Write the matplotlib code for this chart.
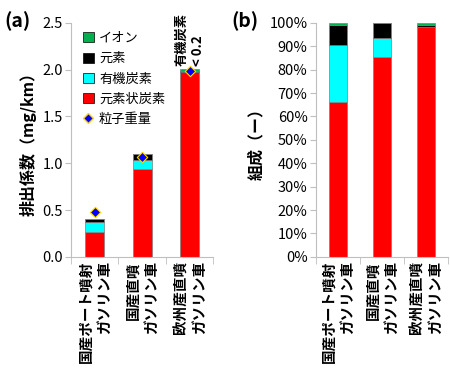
import numpy as np
import matplotlib
matplotlib.use('Agg')
from matplotlib import pyplot as plt
from matplotlib.lines import Line2D
from matplotlib.patches import Patch
from matplotlib.ticker import FuncFormatter, FixedLocator

plt.rcParams['font.family'] = ['Noto Sans CJK JP', 'DejaVu Sans']

cars = ['国産ポート噴射\nガソリン車', '国産直噴\nガソリン車', '欧州産直噴\nガソリン車']
ec = np.array([0.27, 0.94, 1.97])       # 元素状炭素
oc = np.array([0.10, 0.09, 0.0])        # 有機炭素
elem = np.array([0.035, 0.07, 0.02])    # 元素
ion = np.array([0.003, 0.002, 0.02])    # イオン
pm = np.array([0.48, 1.07, 1.98])       # 粒子重量

names = ['元素状炭素', '有機炭素', '元素', 'イオン']
colors = ['#FF0000', '#00FFFF', '#000000', '#00B050']

fig = plt.figure(figsize=(4.5, 3.8), dpi=100)
ax1 = fig.add_axes([0.158, 0.324, 0.316, 0.616])
ax2 = fig.add_axes([0.702, 0.324, 0.293, 0.616])

x = np.arange(len(cars))
w = 0.4

def draw_stack(ax, parts):
    bottom = np.zeros(len(cars))
    for p, c in zip(parts, colors):
        ax.bar(x, p, w, bottom=bottom, color=c, edgecolor='#7f7f7f', linewidth=0.5)
        bottom = bottom + p

def style(ax):
    for s in ['top', 'right']:
        ax.spines[s].set_visible(False)
    for s in ['left', 'bottom']:
        ax.spines[s].set_color('#bfbfbf')
    ax.set_xlim(-0.5, 2.5)
    ax.set_xticks(x)
    ax.set_xticklabels(cars, rotation=90, fontsize=10.5, fontweight='bold',
                       va='top', ha='center', multialignment='right')
    ax.xaxis.set_minor_locator(FixedLocator([-0.5, 0.5, 1.5, 2.5]))
    ax.tick_params(axis='x', which='major', length=0, pad=3)
    ax.tick_params(axis='x', which='minor', length=5, color='#bfbfbf')
    ax.tick_params(axis='y', length=4, color='#bfbfbf', labelsize=10.5, pad=2)

# (a)
draw_stack(ax1, [ec, oc, elem, ion])
ax1.scatter(x, pm, marker='D', s=28, color='#0000FF', edgecolor='#FFD700', linewidth=0.8, zorder=5)
ax1.set_ylim(0, 2.5)
ax1.set_yticks(np.arange(0, 2.51, 0.5))
ax1.yaxis.set_major_formatter(FuncFormatter(lambda v, p: f'{v:.1f}'))
style(ax1)
ax1.set_ylabel('排出係数（mg/km）', fontsize=11.5, fontweight='bold', labelpad=4)
ax1.text(2, 2.04, '有機炭素\n< 0.2', rotation=90, ha='center', va='bottom',
         multialignment='left', fontsize=9.5, fontweight='bold', clip_on=False)

handles = [Patch(facecolor=colors[3], edgecolor='k', lw=0.5),
           Patch(facecolor=colors[2], edgecolor='k', lw=0.5),
           Patch(facecolor=colors[1], edgecolor='k', lw=0.5),
           Patch(facecolor=colors[0], edgecolor='k', lw=0.5),
           Line2D([], [], marker='D', ls='', color='#0000FF', markeredgecolor='#FFD700', markersize=5)]
labels = ['イオン', '元素', '有機炭素', '元素状炭素', '粒子重量']
ax1.legend(handles, labels, loc='upper left', bbox_to_anchor=(0.02, 1.0), frameon=False,
           fontsize=9.5, handlelength=0.8, handleheight=0.8, handletextpad=0.4,
           labelspacing=0.55, borderaxespad=0.3)
fig.text(0.01, 0.945, '(a)', fontsize=14, fontweight='bold', ha='left', va='center')

# (b)
total = ec + oc + elem + ion
draw_stack(ax2, [ec / total, oc / total, elem / total, ion / total])
ax2.set_ylim(0, 1.0)
ax2.set_yticks(np.arange(0, 1.01, 0.1))
ax2.yaxis.set_major_formatter(FuncFormatter(lambda v, p: f'{v:.0%}'))
style(ax2)
ax2.set_ylabel('組成（ー）', fontsize=11.5, fontweight='bold', labelpad=4)
fig.text(0.515, 0.945, '(b)', fontsize=14, fontweight='bold', ha='left', va='center')

fig.savefig('out.png', dpi=100)
